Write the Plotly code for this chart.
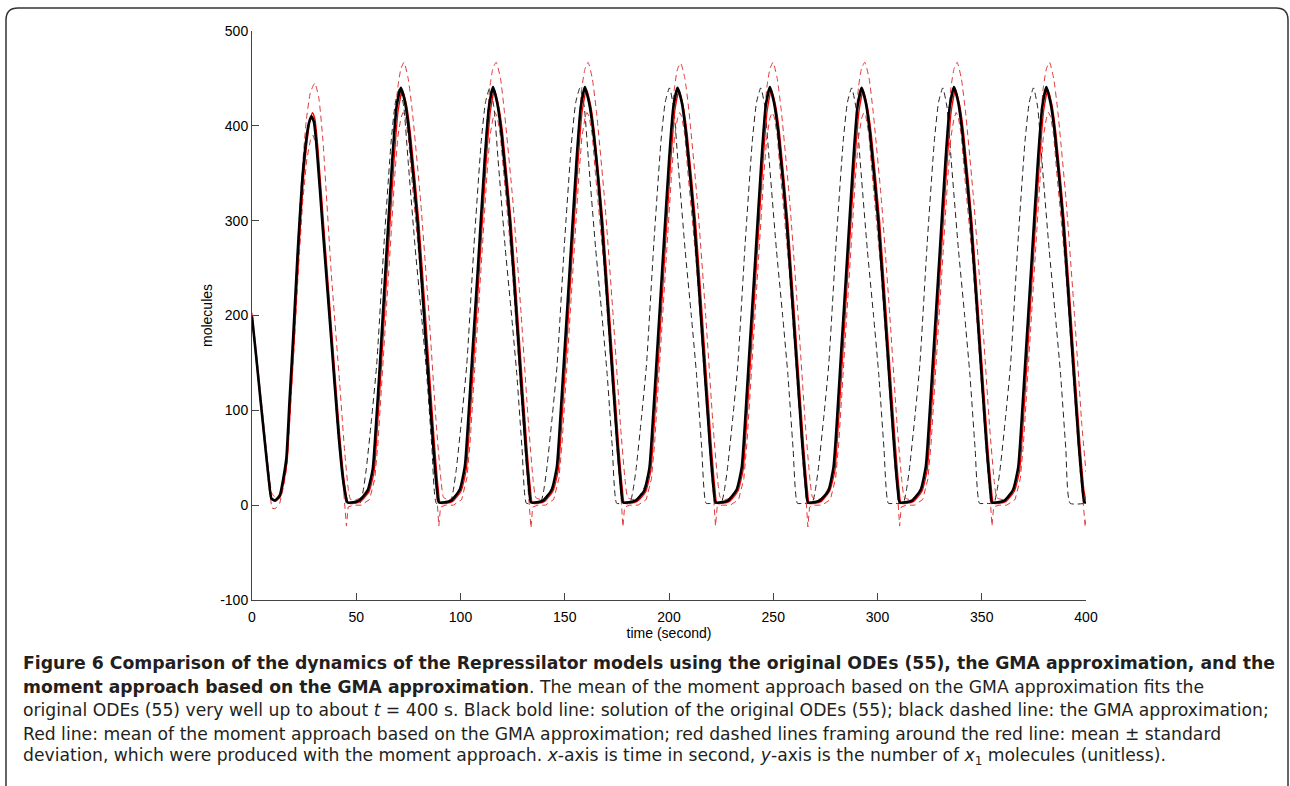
import plotly.graph_objects as go

# ---------------- data ----------------
# Black bold line: solution of the original ODEs (55)
ode_t = [0, 2, 4, 6, 8, 9.3, 11, 13.3, 15, 16.5, 18, 19.7, 22, 24, 26, 27.3, 28.5, 29.7, 31, 34, 38, 41.5, 43.8, 45.8, 48.5,
         51.4, 55.4, 57.9, 59.4, 61.4, 64.4, 67.4, 69.4, 71.4, 73.4, 75.4, 79.4, 83.4, 86.9, 88.7, 89.6, 92.4,
         95.6, 99.6, 102.1, 103.6, 105.6, 108.6, 111.6, 113.6, 115.6, 117.6, 119.6, 123.6, 127.6, 131.1, 132.9, 133.8, 136.6,
         139.7, 143.7, 146.2, 147.7, 149.7, 152.7, 155.7, 157.7, 159.7, 161.7, 163.7, 167.7, 171.7, 175.2, 177.0, 177.9, 180.7,
         184.1, 188.1, 190.6, 192.1, 194.1, 197.1, 200.1, 202.1, 204.1, 206.1, 208.1, 212.1, 216.1, 219.6, 221.4, 222.3, 225.1,
         228.4, 232.4, 234.9, 236.4, 238.4, 241.4, 244.4, 246.4, 248.4, 250.4, 252.4, 256.4, 260.4, 263.9, 265.7, 266.6, 269.4,
         272.4, 276.4, 278.9, 280.4, 282.4, 285.4, 288.4, 290.4, 292.4, 294.4, 296.4, 300.4, 304.4, 307.9, 309.7, 310.6, 313.4,
         316.7, 320.7, 323.2, 324.7, 326.7, 329.7, 332.7, 334.7, 336.7, 338.7, 340.7, 344.7, 348.7, 352.2, 354.0, 354.9, 357.7,
         361.0, 365.0, 367.5, 369.0, 371.0, 374.0, 377.0, 379.0, 381.0, 383.0, 385.0, 389.0, 393.0, 396.5, 398.3, 399.2, 400.0]
ode_v = [199, 157, 113, 70, 28, 7, 5, 10, 28, 50, 110, 175, 270, 340, 385, 403, 410, 404, 378, 290, 175, 75, 25, 3, 3,
         5, 15, 38, 82, 150, 262, 368, 421, 440, 425, 392, 298, 172, 63, 17, 3, 3,
         5, 16, 41, 86, 156, 259, 364, 419, 441, 424, 393, 301, 176, 66, 18, 3, 3,
         5, 16, 40, 85, 155, 260, 365, 420, 441, 424, 394, 300, 175, 65, 18, 3, 3,
         5, 15, 39, 84, 154, 261, 366, 420, 440, 425, 393, 299, 174, 64, 17, 3, 3,
         5, 16, 40, 85, 156, 260, 365, 421, 441, 424, 393, 300, 175, 65, 18, 3, 3,
         5, 15, 40, 84, 155, 259, 364, 420, 440, 424, 392, 299, 175, 64, 17, 3, 3,
         5, 16, 41, 86, 156, 261, 366, 421, 441, 425, 393, 300, 176, 65, 18, 3, 3,
         5, 16, 40, 85, 155, 260, 365, 420, 441, 424, 393, 300, 175, 65, 18, 3, 3]

# Black dashed line: the GMA approximation
gma_t = [0, 2, 4, 6, 8, 9.3, 11, 13.3, 15, 16.5, 18, 19.7, 22, 24, 26, 27.3, 28.5, 29.7, 31, 34, 38, 41.5, 43.8, 45.3, 48.5,
         51.8, 53.3, 54.8, 57.3, 59.8, 63.3, 66.8, 68.8, 70.8, 72.8, 74.8, 78.3, 81.3, 83.8, 86.3, 88.4, 91.3,
         95.0, 96.5, 98.0, 100.5, 103.0, 106.5, 110.0, 112.0, 114.0, 116.0, 118.0, 121.5, 124.5, 127.0, 129.5, 131.6, 134.5,
         138.3, 139.8, 141.3, 143.8, 146.3, 149.8, 153.3, 155.3, 157.3, 159.3, 161.3, 164.8, 167.8, 170.3, 172.8, 174.9, 177.8,
         181.2, 182.7, 184.2, 186.7, 189.2, 192.7, 196.2, 198.2, 200.2, 202.2, 204.2, 207.7, 210.7, 213.2, 215.7, 217.8, 220.7,
         225.0, 226.5, 228.0, 230.5, 233.0, 236.5, 240.0, 242.0, 244.0, 246.0, 248.0, 251.5, 254.5, 257.0, 259.5, 261.6, 264.5,
         268.6, 270.1, 271.6, 274.1, 276.6, 280.1, 283.6, 285.6, 287.6, 289.6, 291.6, 295.1, 298.1, 300.6, 303.1, 305.2, 308.1,
         312.3, 313.8, 315.3, 317.8, 320.3, 323.8, 327.3, 329.3, 331.3, 333.3, 335.3, 338.8, 341.8, 344.3, 346.8, 348.9, 351.8,
         355.8, 357.3, 358.8, 361.3, 363.8, 367.3, 370.8, 372.8, 374.8, 376.8, 378.8, 382.3, 385.3, 387.8, 390.3, 392.4, 400.0]
gma_v = [199, 157, 113, 70, 28, 7, 5, 10, 28, 50, 110, 175, 270, 340, 385, 403, 411, 404, 377, 288, 172, 70, 20, 2, 2,
         2, 15, 38, 90, 148, 275, 385, 425, 440, 420, 365, 270, 200, 138, 60, 2, 2,
         2, 15, 38, 90, 148, 275, 385, 425, 440, 420, 365, 270, 200, 138, 60, 2, 2,
         2, 14, 37, 89, 147, 274, 384, 425, 440, 421, 366, 271, 201, 139, 61, 2, 2,
         2, 15, 38, 90, 148, 275, 385, 425, 440, 420, 365, 270, 200, 138, 60, 2, 2,
         2, 15, 38, 90, 148, 275, 385, 425, 440, 420, 365, 270, 200, 138, 60, 2, 2,
         2, 15, 38, 90, 148, 275, 385, 425, 440, 420, 365, 270, 200, 138, 60, 2, 2,
         2, 15, 38, 90, 148, 275, 385, 425, 440, 420, 365, 270, 200, 138, 60, 2, 2,
         2, 15, 38, 90, 148, 275, 385, 425, 440, 420, 365, 270, 200, 138, 60, 2, 2]

# Red line: mean of the moment approach
mean_t = [0, 2, 4, 6, 8, 9.5, 11.3, 13.6, 15.4, 16.9, 18.5, 20.2, 22.5, 24.5, 26.5, 27.8, 29.0, 30.2, 31.5, 34.5, 38.5, 42, 44.3, 46.2, 49,
          52.1, 56.1, 58.6, 60.1, 62.1, 65.1, 68.1, 70.1, 72.1, 74.1, 76.1, 80.1, 84.1, 87.6, 89.4, 90.3, 93.1,
          96.3, 100.3, 102.8, 104.3, 106.3, 109.3, 112.3, 114.3, 116.3, 118.3, 120.3, 124.3, 128.3, 131.8, 133.6, 134.5, 137.3,
          140.4, 144.4, 146.9, 148.4, 150.4, 153.4, 156.4, 158.4, 160.4, 162.4, 164.4, 168.4, 172.4, 175.9, 177.7, 178.6, 181.4,
          184.8, 188.8, 191.3, 192.8, 194.8, 197.8, 200.8, 202.8, 204.8, 206.8, 208.8, 212.8, 216.8, 220.3, 222.1, 223.0, 225.8,
          229.1, 233.1, 235.6, 237.1, 239.1, 242.1, 245.1, 247.1, 249.1, 251.1, 253.1, 257.1, 261.1, 264.6, 266.4, 267.3, 270.1,
          273.1, 277.1, 279.6, 281.1, 283.1, 286.1, 289.1, 291.1, 293.1, 295.1, 297.1, 301.1, 305.1, 308.6, 310.4, 311.3, 314.1,
          317.4, 321.4, 323.9, 325.4, 327.4, 330.4, 333.4, 335.4, 337.4, 339.4, 341.4, 345.4, 349.4, 352.9, 354.7, 355.6, 358.4,
          361.7, 365.7, 368.2, 369.7, 371.7, 374.7, 377.7, 379.7, 381.7, 383.7, 385.7, 389.7, 393.7, 397.2, 399.0, 400.0]
mean_v = [200, 158, 114, 71, 29, 6, 4, 9, 26, 48, 108, 172, 268, 338, 385, 405, 414, 407, 380, 292, 176, 76, 24, 2, 2,
          4, 14, 36, 80, 148, 258, 362, 416, 437, 422, 390, 297, 172, 62, 16, 2, 2,
          4, 15, 38, 82, 151, 257, 361, 415, 438, 421, 391, 298, 173, 63, 16, 2, 2,
          4, 15, 37, 81, 150, 258, 362, 416, 438, 422, 390, 297, 172, 62, 16, 2, 2,
          4, 14, 37, 80, 149, 257, 361, 416, 437, 421, 390, 298, 173, 63, 16, 2, 2,
          4, 15, 38, 82, 151, 258, 362, 416, 438, 422, 391, 297, 172, 62, 16, 2, 2,
          4, 15, 37, 81, 150, 257, 361, 415, 437, 421, 390, 298, 173, 63, 16, 2, 2,
          4, 15, 38, 82, 151, 258, 362, 416, 438, 422, 391, 297, 172, 62, 16, 2, 2,
          4, 15, 37, 81, 150, 258, 362, 416, 438, 422, 390, 297, 172, 62, 16, 4]

# Red dashed lines: mean + standard deviation
upper_t = [0, 2, 4, 6, 8, 9.6, 11.5, 14, 15.6, 17, 18.3, 19.8, 22, 24, 26, 28, 30.1, 32, 34, 38, 42, 44.5, 46.3, 47.3, 50,
           52.4, 55.9, 58.4, 59.9, 61.9, 64.9, 67.9, 69.9, 71.4, 72.9, 74.9, 76.9, 80.9, 84.9, 88.4, 90.7, 91.9, 94.4,
           96.6, 100.1, 102.6, 104.1, 106.1, 109.1, 112.1, 114.1, 115.6, 117.1, 119.1, 121.1, 125.1, 129.1, 132.6, 134.9, 136.1, 138.6,
           140.7, 144.2, 146.7, 148.2, 150.2, 153.2, 156.2, 158.2, 159.7, 161.2, 163.2, 165.2, 169.2, 173.2, 176.7, 179.0, 180.2, 182.7,
           185.1, 188.6, 191.1, 192.6, 194.6, 197.6, 200.6, 202.6, 204.1, 205.6, 207.6, 209.6, 213.6, 217.6, 221.1, 223.4, 224.6, 227.1,
           229.4, 232.9, 235.4, 236.9, 238.9, 241.9, 244.9, 246.9, 248.4, 249.9, 251.9, 253.9, 257.9, 261.9, 265.4, 267.7, 268.9, 271.4,
           273.4, 276.9, 279.4, 280.9, 282.9, 285.9, 288.9, 290.9, 292.4, 293.9, 295.9, 297.9, 301.9, 305.9, 309.4, 311.7, 312.9, 315.4,
           317.7, 321.2, 323.7, 325.2, 327.2, 330.2, 333.2, 335.2, 336.7, 338.2, 340.2, 342.2, 346.2, 350.2, 353.7, 356.0, 357.2, 359.7,
           362.0, 365.5, 368.0, 369.5, 371.5, 374.5, 377.5, 379.5, 381.0, 382.5, 384.5, 386.5, 390.5, 394.5, 398.0, 400.0]
upper_v = [203, 163, 120, 78, 36, 12, 8, 14, 32, 55, 110, 175, 275, 350, 405, 435, 445, 430, 385, 245, 130, 55, 15, 6, 6,
           8, 20, 45, 95, 165, 275, 385, 440, 460, 467, 450, 415, 320, 200, 85, 25, 8, 6,
           8, 20, 46, 96, 166, 276, 386, 441, 461, 467, 451, 414, 321, 201, 86, 25, 8, 6,
           8, 20, 45, 95, 165, 275, 385, 440, 460, 467, 450, 415, 320, 200, 85, 25, 8, 6,
           8, 21, 46, 96, 166, 274, 384, 440, 460, 466, 450, 415, 320, 200, 85, 25, 8, 6,
           8, 20, 45, 95, 165, 275, 385, 440, 460, 467, 450, 415, 320, 200, 85, 25, 8, 6,
           8, 20, 45, 95, 165, 275, 385, 441, 461, 467, 451, 415, 321, 200, 85, 25, 8, 6,
           8, 20, 45, 95, 165, 275, 385, 440, 460, 467, 450, 415, 320, 200, 85, 25, 8, 6,
           8, 20, 45, 95, 165, 275, 385, 440, 460, 467, 450, 415, 320, 200, 85, 35]

# Red dashed lines: mean - standard deviation
lower_t = [0, 2, 4, 6, 8, 9.5, 11, 13.3, 15.2, 16.8, 18.3, 20, 22.3, 24.3, 26.3, 28, 29.3, 30.5, 32, 35, 38.5, 42, 44.2, 45.3, 46.1, 48.5,
           52.4, 56.4, 58.9, 60.4, 62.4, 65.4, 68.4, 69.9, 71.4, 72.4, 73.4, 74.9, 76.4, 80.4, 84.4, 87.4, 88.6, 89.6, 90.4, 92.9,
           96.6, 100.6, 103.1, 104.6, 106.6, 109.6, 112.6, 114.1, 115.6, 116.6, 117.6, 119.1, 120.6, 124.6, 128.6, 131.6, 132.8, 133.8, 134.6, 137.1,
           140.7, 144.7, 147.2, 148.7, 150.7, 153.7, 156.7, 158.2, 159.7, 160.7, 161.7, 163.2, 164.7, 168.7, 172.7, 175.7, 176.9, 177.9, 178.7, 181.2,
           185.1, 189.1, 191.6, 193.1, 195.1, 198.1, 201.1, 202.6, 204.1, 205.1, 206.1, 207.6, 209.1, 213.1, 217.1, 220.1, 221.3, 222.3, 223.1, 225.6,
           229.4, 233.4, 235.9, 237.4, 239.4, 242.4, 245.4, 246.9, 248.4, 249.4, 250.4, 251.9, 253.4, 257.4, 261.4, 264.4, 265.6, 266.6, 267.4, 269.9,
           273.4, 277.4, 279.9, 281.4, 283.4, 286.4, 289.4, 290.9, 292.4, 293.4, 294.4, 295.9, 297.4, 301.4, 305.4, 308.4, 309.6, 310.6, 311.4, 313.9,
           317.7, 321.7, 324.2, 325.7, 327.7, 330.7, 333.7, 335.2, 336.7, 337.7, 338.7, 340.2, 341.7, 345.7, 349.7, 352.7, 353.9, 354.9, 355.7, 358.2,
           362.0, 366.0, 368.5, 370.0, 372.0, 375.0, 378.0, 379.5, 381.0, 382.0, 383.0, 384.5, 386.0, 390.0, 394.0, 397.0, 398.3, 399.6, 400.0]
lower_v = [196, 152, 108, 64, 22, -3, -4, 2, 20, 42, 95, 160, 250, 320, 365, 385, 390, 382, 352, 270, 165, 68, 12, -22, -2, 0,
           0, 6, 28, 65, 135, 245, 345, 388, 408, 414, 410, 390, 350, 255, 128, 40, 12, -22, -2, 0,
           0, 6, 29, 66, 136, 246, 346, 389, 408, 414, 410, 390, 351, 256, 129, 41, 12, -24, -2, 0,
           0, 6, 28, 65, 135, 245, 345, 388, 408, 414, 410, 390, 350, 255, 128, 40, 12, -23, -2, 0,
           0, 6, 28, 65, 135, 245, 345, 388, 408, 414, 410, 390, 350, 255, 128, 40, 12, -22, -2, 0,
           0, 6, 28, 66, 136, 245, 346, 388, 408, 414, 410, 390, 350, 255, 128, 40, 12, -23, -2, 0,
           0, 6, 28, 65, 135, 245, 345, 388, 408, 414, 410, 390, 350, 255, 128, 40, 12, -22, -2, 0,
           0, 6, 28, 65, 135, 245, 345, 388, 408, 414, 410, 390, 350, 255, 128, 40, 12, -22, -2, 0,
           0, 6, 28, 65, 135, 245, 345, 388, 408, 414, 410, 390, 350, 255, 128, 40, 12, -23, -15]

x_ticks = [0, 50, 100, 150, 200, 250, 300, 350, 400]
x_ticklabels = ["0", "50", "100", "150", "200", "250", "300", "350", "400"]
y_ticks = [-100, 0, 100, 200, 300, 400, 500]
y_ticklabels = ["-100", "0", "100", "200", "300", "400", "500"]
x_title = "time (second)"
y_title = "molecules"

caption_lines = [
    "<b>Figure 6 Comparison of the dynamics of the Repressilator models using the original ODEs (55), the GMA approximation, and the</b>",
    "<b>moment approach based on the GMA approximation</b>. The mean of the moment approach based on the GMA approximation fits the",
    "original ODEs (55) very well up to about <i>t</i> = 400 s. Black bold line: solution of the original ODEs (55); black dashed line: the GMA approximation;",
    "Red line: mean of the moment approach based on the GMA approximation; red dashed lines framing around the red line: mean ± standard",
    "deviation, which were produced with the moment approach. <i>x</i>-axis is time in second, <i>y</i>-axis is the number of <i>x</i><sub>1</sub> molecules (unitless).",
]
caption_sizes = [17.3, 17.2, 17.2, 17.2, 17.2]

# ---------------- layout geometry (pixels) ----------------
W, H = 1290, 786
L, R, T, B = 252, 1086, 31, 600   # plot area edges in pixels


def px(xp):
    return (xp - L) / (R - L)


def py(yp):
    return (B - yp) / (B - T)


fig = go.Figure()

fig.add_trace(go.Scatter(x=gma_t, y=gma_v, mode="lines",
                         line=dict(color="#222222", width=1, dash="6px,4px", shape="spline", smoothing=0.5)))
fig.add_trace(go.Scatter(x=upper_t, y=upper_v, mode="lines",
                         line=dict(color="#e03a3a", width=1, dash="6px,4px", shape="spline", smoothing=0.5)))
fig.add_trace(go.Scatter(x=lower_t, y=lower_v, mode="lines",
                         line=dict(color="#e03a3a", width=1, dash="6px,4px")))
fig.add_trace(go.Scatter(x=mean_t, y=mean_v, mode="lines",
                         line=dict(color="#ff0000", width=1.3, shape="spline", smoothing=0.5)))
fig.add_trace(go.Scatter(x=ode_t, y=ode_v, mode="lines",
                         line=dict(color="#000000", width=2.6, shape="spline", smoothing=0.5)))

axis_font = dict(family="Liberation Sans, Arial, sans-serif", size=14, color="#000000")

fig.update_layout(
    width=W, height=H,
    margin=dict(l=L, r=W - R, t=T, b=H - B),
    paper_bgcolor="white", plot_bgcolor="white",
    showlegend=False,
    xaxis=dict(range=[0, 400], tickvals=x_ticks, ticktext=x_ticklabels, ticks="inside", ticklen=7,
               tickcolor="#444444", showline=True, linecolor="#444444", linewidth=1,
               showgrid=False, zeroline=False, tickfont=axis_font, mirror=False, ticklabelstandoff=4,
               title=dict(text=x_title, font=axis_font, standoff=2)),
    yaxis=dict(range=[-100, 500], tickvals=y_ticks, ticktext=y_ticklabels, ticks="inside", ticklen=7,
               tickcolor="#444444", showline=True, linecolor="#444444", linewidth=1,
               showgrid=False, zeroline=False, tickfont=axis_font, mirror=False),
)

# y-axis title placed at the reference position
fig.add_annotation(text=y_title, xref="paper", yref="paper", x=px(207), y=py(316),
                   xanchor="center", yanchor="middle", textangle=-90, showarrow=False,
                   font=axis_font)

# rounded frame around the figure
x0, x1, y0 = px(6), px(1288), py(8)
yb = py(800)
r_x = (px(18) - px(6))
r_y = (py(8) - py(20))
frame_path = (f"M {x0},{yb} L {x0},{y0 - r_y} Q {x0},{y0} {x0 + r_x},{y0} "
              f"L {x1 - r_x},{y0} Q {x1},{y0} {x1},{y0 - r_y} L {x1},{yb}")
fig.add_shape(type="path", path=frame_path, xref="paper", yref="paper",
              line=dict(color="#333333", width=1.5), layer="above")

caption_y = [663, 686.5, 710, 733.5, 757]
for text, yy, fs in zip(caption_lines, caption_y, caption_sizes):
    fig.add_annotation(text=text, xref="paper", yref="paper", x=px(21), y=py(yy),
                       xanchor="left", yanchor="middle", showarrow=False, align="left",
                       font=dict(family="DejaVu Sans, sans-serif", size=fs, color="#231f20"))

fig.write_html("out.html", config={"displayModeBar": False},
               post_script="document.body.style.margin='0px'; document.body.style.overflow='hidden';")
